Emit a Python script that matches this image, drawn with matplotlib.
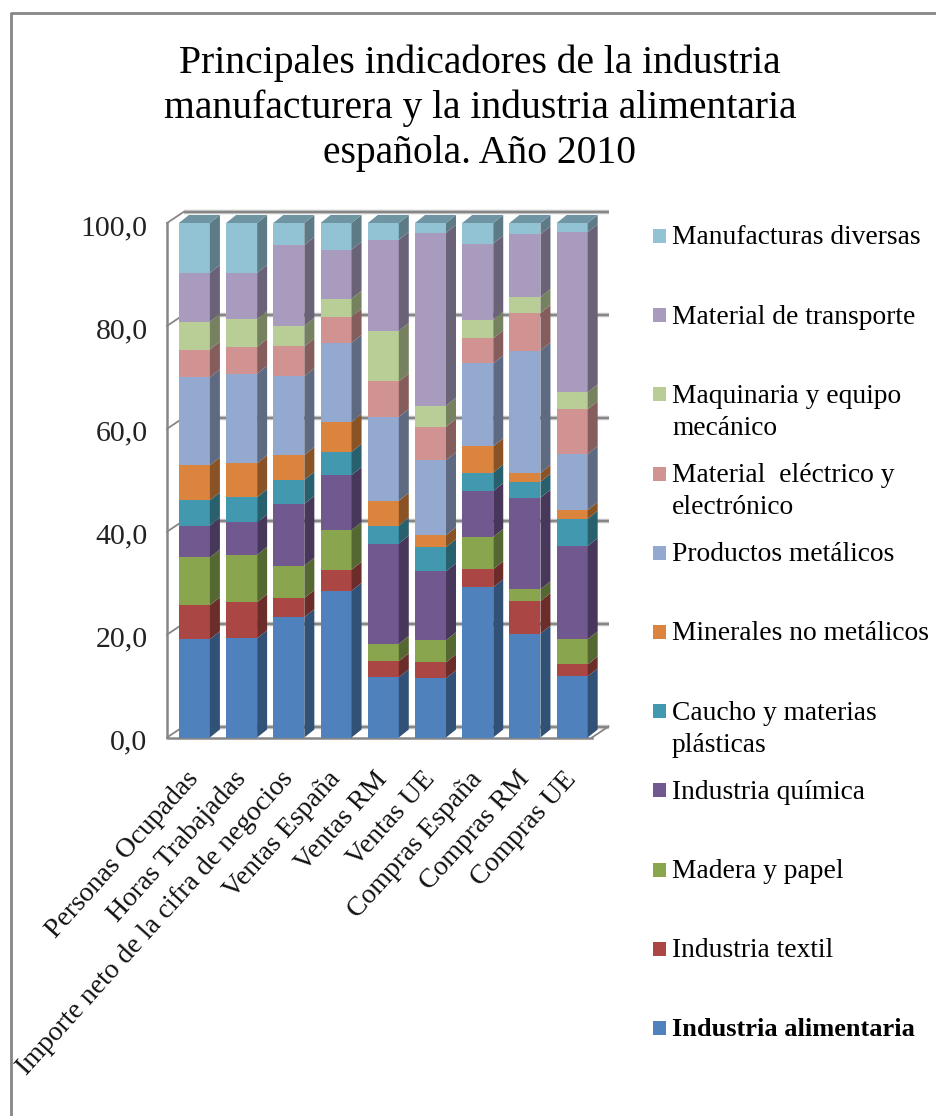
import numpy as np
import matplotlib
matplotlib.use("Agg")
import matplotlib.pyplot as plt
from matplotlib.lines import Line2D
from matplotlib.patches import Polygon, Rectangle
from matplotlib.transforms import ScaledTranslation

plt.rcParams['font.family'] = ['Liberation Serif', 'DejaVu Serif']

titulo = "Principales indicadores de la industria\nmanufacturera y la industria alimentaria\nespañola. Año 2010"

categorias = ["Personas Ocupadas", "Horas Trabajadas", "Importe neto de la cifra de negocios",
              "Ventas España", "Ventas RM", "Ventas UE", "Compras España", "Compras RM", "Compras UE"]

# de abajo hacia arriba
alimentaria = [19.1, 19.3, 23.4, 28.5, 11.7, 11.5, 29.2, 20.2, 11.9]
textil = [6.6, 7.0, 3.7, 4.1, 3.1, 3.1, 3.5, 6.3, 2.3]
madera = [9.3, 9.2, 6.3, 7.7, 3.4, 4.3, 6.3, 2.3, 4.9]
quimica = [6.2, 6.3, 12.0, 10.7, 19.5, 13.4, 8.9, 17.8, 18.1]
caucho = [4.9, 4.9, 4.7, 4.5, 3.5, 4.7, 3.6, 3.1, 5.3]
minerales = [6.8, 6.6, 4.8, 5.8, 4.8, 2.3, 5.1, 1.7, 1.7]
metalicos = [17.1, 17.4, 15.3, 15.4, 16.3, 14.6, 16.1, 23.8, 10.9]
electrico = [5.4, 5.2, 5.8, 5.1, 6.9, 6.5, 4.9, 7.3, 8.7]
maquinaria = [5.4, 5.4, 4.0, 3.5, 9.8, 4.1, 3.6, 3.1, 3.3]
transporte = [9.5, 9.0, 15.7, 9.5, 17.7, 33.6, 14.8, 12.2, 31.1]
diversas = [9.7, 9.7, 4.3, 5.2, 3.3, 1.9, 4.0, 2.2, 1.8]

series = [alimentaria, textil, madera, quimica, caucho, minerales, metalicos,
          electrico, maquinaria, transporte, diversas]
colores = ['#4F81BD', '#AA4643', '#89A54E', '#71588F', '#4198AF', '#DB843D',
           '#93A9CF', '#D19392', '#B9CD96', '#A99BBD', '#92C3D5']
etiquetas = ["Industria alimentaria", "Industria textil", "Madera y papel", "Industria química",
             "Caucho y materias\nplásticas", "Minerales no metálicos", "Productos metálicos",
             "Material  eléctrico y\nelectrónico", "Maquinaria y equipo\nmecánico",
             "Material de transporte", "Manufacturas diversas"]

marcas_y = [0, 20, 40, 60, 80, 100]
textos_y = ["0,0", "20,0", "40,0", "60,0", "80,0", "100,0"]

W, H = 937, 1116
GRIS = '#868686'


def oscurecer(color, f):
    rgb = np.array(matplotlib.colors.to_rgb(color))
    return tuple(rgb * f)


fig = plt.figure(figsize=(W / 100, H / 100), dpi=100)
ax = fig.add_axes([167 / W, (H - 737.5) / H, 425 / W, 514.5 / H])
ax.set_xlim(-0.5, 8.5)
ax.set_ylim(0, 100)
for s in ax.spines.values():
    s.set_visible(False)

# profundidad en unidades de datos
prof_x, prof_y = 10 / 47.2, 8 / 5.145
pared_x, pared_y = 16.5 / 47.2, 11 / 5.145
x = np.arange(len(categorias)) + 0.08
ancho = 31 / 47.2

# pared del fondo
for v in marcas_y:
    ax.plot([-0.5 + pared_x, 8.5 + pared_x], [v + pared_y] * 2, color='#C4C4C4', lw=3.2,
            clip_on=False, zorder=1, solid_capstyle='butt')
    ax.plot([-0.5 + pared_x, 8.5 + pared_x], [v + pared_y] * 2, color=GRIS, lw=1.5,
            clip_on=False, zorder=1.1, solid_capstyle='butt')
    ax.plot([-0.5, -0.5 + pared_x], [v, v + pared_y], color=GRIS, lw=1.3, clip_on=False, zorder=1.2)
ax.plot([8.5, 8.5 + pared_x], [0, pared_y], color=GRIS, lw=1.3, clip_on=False, zorder=1.2)
ax.plot([-0.5, -0.5, 8.5], [100, 0, 0], color=GRIS, lw=1.8, clip_on=False, zorder=1.5)

# barras apiladas con cara lateral y tapa
base = np.zeros(len(categorias))
for valores, color in zip(series, colores):
    ax.bar(x, valores, ancho, bottom=base, color=color, zorder=3)
    tope = base + np.array(valores)
    for xi, b, t in zip(x, base, tope):
        der = xi + ancho / 2
        ax.add_patch(Polygon([(der, b), (der + prof_x, b + prof_y), (der + prof_x, t + prof_y), (der, t)],
                             closed=True, facecolor=oscurecer(color, 0.63), edgecolor='none',
                             clip_on=False, zorder=3))
    base = tope

for xi, t in zip(x, base):
    izq, der = xi - ancho / 2, xi + ancho / 2
    ax.add_patch(Polygon([(izq, t), (der, t), (der + prof_x, t + prof_y), (izq + prof_x, t + prof_y)],
                         closed=True, facecolor=oscurecer(colores[-1], 0.76), edgecolor='none',
                         clip_on=False, zorder=3))

ax.set_yticks(marcas_y, textos_y, fontsize=21.5, color='#222222')
ax.set_xticks(x, categorias, fontsize=20, color='#111111', rotation=48, ha='right', va='top',
              rotation_mode='anchor')
ax.tick_params(axis='y', length=0, pad=14)
ax.tick_params(axis='x', length=0, pad=21)
desplaza = ScaledTranslation(-9 / 100, 0, fig.dpi_scale_trans)
for lab in ax.get_xticklabels():
    lab.set_transform(lab.get_transform() + desplaza)
baja = ScaledTranslation(0, -2 / 100, fig.dpi_scale_trans)
for lab in ax.get_yticklabels():
    lab.set_transform(lab.get_transform() + baja)

# titulo
fig.text(480 / W, 1 - 108 / H, titulo, ha='center', va='center', fontsize=28.5, linespacing=1.27, color='black')

# leyenda a mano, en orden inverso
leg_y = 236
for i, (et, color) in enumerate(zip(etiquetas[::-1], colores[::-1])):
    y = leg_y + i * 79.2
    fig.add_artist(Rectangle((653 / W, 1 - (y + 7) / H), 13 / W, 14 / H, transform=fig.transFigure,
                             facecolor=color, edgecolor='none'))
    negrita = et == "Industria alimentaria"
    for j, linea in enumerate(et.split("\n")):
        fig.text(672 / W, 1 - (y + 2 + j * 32) / H, linea, ha='left', va='center',
                 fontsize=19 if negrita else 19.8, fontweight='bold' if negrita else 'normal', color='black')

# marco del grafico
fig.add_artist(Line2D([11 / W, 11 / W, 1], [0, 1 - 13 / H, 1 - 13 / H], color=GRIS, lw=2,
                      transform=fig.transFigure))

fig.savefig("out.png", dpi=100)
